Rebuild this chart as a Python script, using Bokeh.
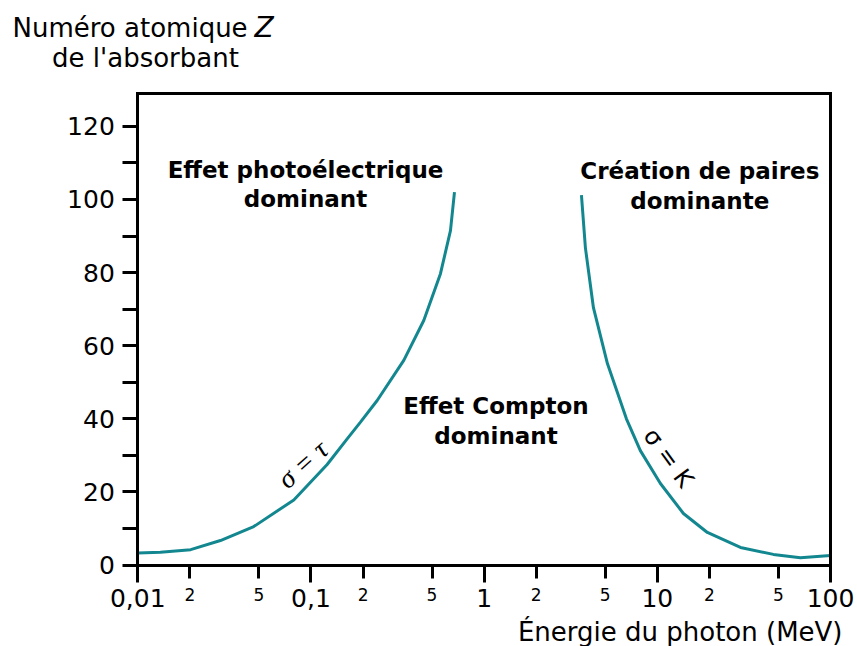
from bokeh.plotting import figure
from bokeh.models import (FixedTicker, Range1d, Label, LabelSet, ColumnDataSource,
                          LinearAxis, LogAxis)
from bokeh.core.properties import value
from bokeh.embed import file_html
from bokeh.resources import INLINE

# ---- data ----
# sigma = tau curve (photoelectric = Compton), energy in MeV, Z
tau_E = [0.01, 0.0135, 0.0202, 0.030, 0.0467, 0.0796, 0.124, 0.1618, 0.1931, 0.2411, 0.3434, 0.448, 0.5594, 0.639, 0.674]
tau_Z = [3.3, 3.5, 4.2, 6.7, 10.5, 17.8, 27.5, 34.5, 39.1, 45.0, 56.0, 66.9, 79.7, 91.5, 102.0]
# sigma = K curve (Compton = pair production)
k_E = [3.646, 3.845, 4.276, 5.15, 6.63, 7.98, 10.42, 14.15, 19.45, 30.2, 46.8, 67.0, 100.0]
k_Z = [101.2, 86.7, 70.4, 55.1, 40.0, 31.3, 22.3, 14.1, 8.9, 4.8, 2.9, 2.0, 2.6]

x_decades = [0.01, 0.1, 1, 10, 100]
x_decade_labels = ["0,01", "0,1", "1", "10", "100"]
x_minor = [0.02, 0.05, 0.2, 0.5, 2, 5, 20, 50]
x_minor_labels = ["2", "5", "2", "5", "2", "5", "2", "5"]
y_ticks = [0, 10, 20, 30, 40, 50, 60, 70, 80, 90, 100, 110, 120]
y_labelled = [0, 20, 40, 60, 80, 100, 120]

# ---- layout geometry (pixels) ----
W, H = 857, 646
FL, FR, FT, FB = 137.3, 830.0, 93.0, 564.5   # visible box edges
X0, X1, Z0, Z1 = 0.01, 100.0, 0.0, 129.0
dec = (FR - FL) / 4.0
zpx = (FB - FT) / (Z1 - Z0)
x_start = X0 * 10 ** (-FL / dec)
x_end = X1 * 10 ** ((W - FR) / dec)
y_start = Z0 - (H - FB) / zpx
y_end = Z1 + FT / zpx

TEAL = "#13878f"
SANS = "DejaVu Sans"

p = figure(width=W, height=H, x_axis_type="log",
           x_range=Range1d(x_start, x_end), y_range=Range1d(y_start, y_end),
           output_backend="svg", toolbar_location=None)
p.min_border_left = p.min_border_right = p.min_border_top = p.min_border_bottom = 0
p.title.visible = False
p.grid.visible = False
p.outline_line_color = None
p.background_fill_color = "white"
p.border_fill_color = "white"

def style_line(ax):
    ax.axis_line_width = 3
    ax.axis_line_color = "black"
    ax.axis_line_cap = "square"

# bottom axis at Z = 0
xa = p.xaxis[0]
xa.fixed_location = Z0
xa.bounds = (X0, X1)
xa.ticker = FixedTicker(ticks=x_decades, minor_ticks=x_minor)
xa.major_label_overrides = {v: l for v, l in zip(x_decades, x_decade_labels)}
style_line(xa)
xa.major_tick_line_width = 3
xa.minor_tick_line_width = 3
xa.major_tick_in = 0
xa.major_tick_out = 17
xa.minor_tick_in = 0
xa.minor_tick_out = 13
xa.major_label_text_font = SANS
xa.major_label_text_font_size = "25px"
xa.major_label_text_color = "black"
xa.major_label_standoff = 7

# left axis at E = 0.01
ya = p.yaxis[0]
ya.fixed_location = X0
ya.bounds = (Z0, Z1)
ya.ticker = FixedTicker(ticks=y_ticks, minor_ticks=[])
ya.major_label_overrides = {v: (str(v) if v in y_labelled else "") for v in y_ticks}
style_line(ya)
ya.major_tick_line_width = 3
ya.major_tick_in = 0
ya.major_tick_out = 15
ya.major_label_text_font = SANS
ya.major_label_text_font_size = "25px"
ya.major_label_text_color = "black"
ya.major_label_standoff = 8

# top and right edges of the box
top = LogAxis(fixed_location=Z1, bounds=(X0, X1), ticker=FixedTicker(ticks=[], minor_ticks=[]),
              major_tick_out=0, major_tick_in=0, minor_tick_out=0, minor_tick_in=0,
              major_label_text_font_size="0px")
style_line(top)
p.add_layout(top, "above")
right = LinearAxis(fixed_location=X1, bounds=(Z0, Z1), ticker=FixedTicker(ticks=[], minor_ticks=[]),
                   major_tick_out=0, major_tick_in=0, minor_tick_out=0, minor_tick_in=0,
                   major_label_text_font_size="0px")
style_line(right)
p.add_layout(right, "right")

# small "2" / "5" labels under minor ticks
src = ColumnDataSource(dict(x=x_minor, y=[Z0] * len(x_minor), t=x_minor_labels))
p.add_layout(LabelSet(x="x", y="y", text="t", source=src, y_offset=-23,
                      text_align="center", text_baseline="top",
                      text_font=value(SANS), text_font_size="17px",
                      text_color="black"))

# curves
p.line(tau_E, tau_Z, line_color=TEAL, line_width=3)
p.line(k_E, k_Z, line_color=TEAL, line_width=3)

def lab(x, y, text, **kw):
    opts = dict(text_font=SANS, text_color="black", text_align="center",
                text_baseline="alphabetic")
    opts.update(kw)
    p.add_layout(Label(x=x, y=y, text=text, **opts))

B = dict(text_font_style="bold", text_font_size="23px")
lab(0.093, 108.1, "Effet photoélectrique", **B)
lab(0.093, 100.0, "dominant", **B)
lab(17.6, 107.8, "Création de paires", **B)
lab(17.6, 99.6, "dominante", **B)
lab(1.17, 43.6, "Effet Compton", **B)
lab(1.17, 35.4, "dominant", **B)

lab(0.0893, 27.6, "σ = τ", text_font="Liberation Serif", text_font_style="italic",
    text_font_size="28px", text_baseline="middle", angle=0.73)
lab(11.6, 29.3, "σ = K", text_font_size="24px", text_baseline="middle", angle=-0.94)

# axis titles (screen units: x from left, y from bottom of the canvas)
S = dict(x_units="screen", y_units="screen", text_font_size="26px")
lab(12, H - 27, "Numéro atomique", text_align="left", **S)
lab(254, H - 27, "Z", text_align="left", text_font_style="italic",
    x_units="screen", y_units="screen", text_font_size="28px")
lab(145, H - 57, "de l'absorbant", **S)
lab(842, H - 631, "Énergie du photon (MeV)", text_align="right", **S)

open("out.html", "w").write(file_html(p, INLINE))
